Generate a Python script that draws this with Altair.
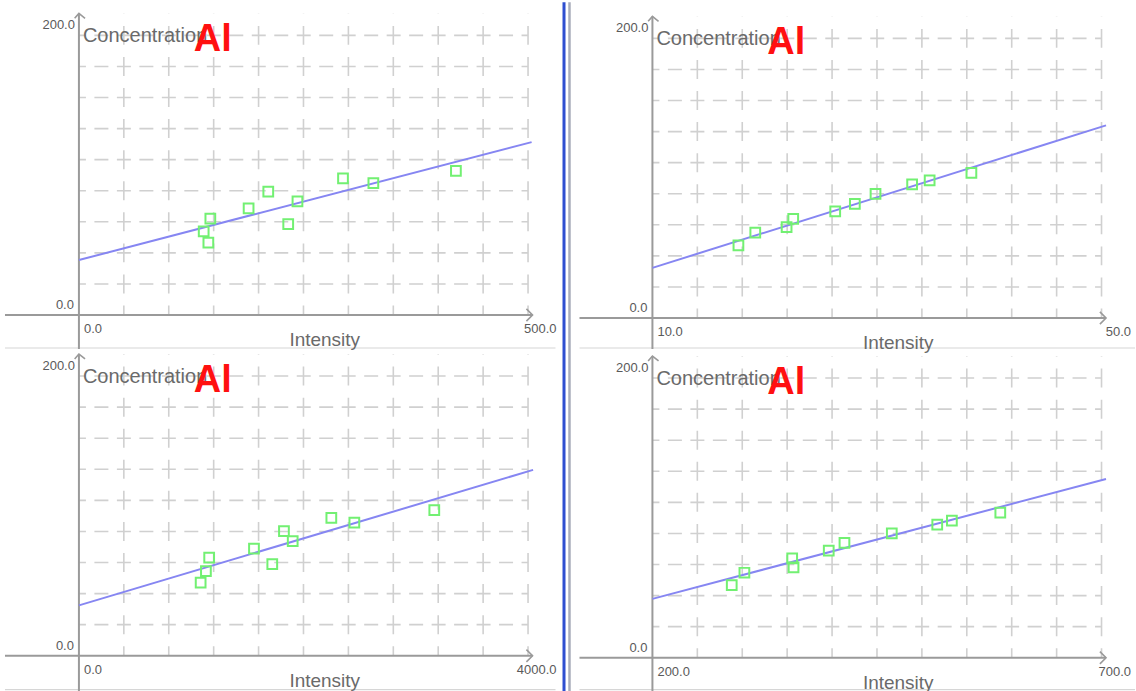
import altair as alt
import pandas as pd

# ---------------- data ----------------
element = "Al"
x_title = "Intensity"
y_title = "Concentration"
y_tick_labels = ["0.0", "200.0"]

panel_keys = ["tl", "tr", "bl", "br"]
x_min = {"tl": 0.0, "tr": 10.0, "bl": 0.0, "br": 200.0}
x_max = {"tl": 500.0, "tr": 50.0, "bl": 4000.0, "br": 700.0}
x_tick_labels = {
    "tl": ["0.0", "500.0"],
    "tr": ["10.0", "50.0"],
    "bl": ["0.0", "4000.0"],
    "br": ["200.0", "700.0"],
}
y_grid_values = [20, 40, 60, 80, 100, 120, 140, 160, 180]

tl_intensity = [138.9, 146.3, 144.1, 188.9, 210.8, 233.0, 243.3, 294.0, 327.8, 419.7]
tl_conc = [53.8, 62.1, 46.6, 68.7, 79.4, 58.5, 73.1, 87.9, 84.9, 92.8]
tr_intensity = [17.66, 19.16, 21.95, 22.54, 26.28, 28.03, 29.87, 33.13, 34.69, 38.41]
tr_conc = [46.7, 54.9, 58.5, 63.8, 68.6, 73.5, 79.9, 86.0, 88.6, 93.5]
bl_intensity = [1084, 1131, 1160, 1559, 1722, 1826, 1904, 2248, 2453, 3165]
bl_conc = [47.1, 54.4, 63.2, 69.0, 59.0, 80.2, 73.8, 88.7, 85.7, 93.7]
br_intensity = [288.3, 302.4, 355.6, 357.1, 396.3, 413.8, 466.5, 517.1, 533.4, 587.3]
br_conc = [46.7, 54.7, 63.9, 58.1, 69.0, 74.0, 80.0, 85.7, 88.3, 93.4]

# calibration line end points
tl_fit_x = [0.0, 504.0]
tl_fit_y = [35.4, 111.3]
tr_fit_x = [10.0, 50.4]
tr_fit_y = [32.3, 124.0]
bl_fit_x = [0.0, 4045.0]
bl_fit_y = [32.4, 119.6]
br_fit_x = [200.0, 705.0]
br_fit_y = [37.9, 115.0]

points = {
    "tl": (tl_intensity, tl_conc),
    "tr": (tr_intensity, tr_conc),
    "bl": (bl_intensity, bl_conc),
    "br": (br_intensity, br_conc),
}
fits = {
    "tl": (tl_fit_x, tl_fit_y),
    "tr": (tr_fit_x, tr_fit_y),
    "bl": (bl_fit_x, bl_fit_y),
    "br": (br_fit_x, br_fit_y),
}

# ---------------- layout / style ----------------
geom = {
    "tl": dict(W=561, H=347, ax=79, ay=313, right=False, top=True),
    "tr": dict(W=575, H=347, ax=92, ay=316, right=True, top=True),
    "bl": dict(W=561, H=344, ax=79, ay=307, right=False, top=False),
    "br": dict(W=575, H=344, ax=92, ay=309, right=True, top=False),
}
GRID_W = 449.5          # pixel width of the 10 x-grid cells
PPY = 1.555             # pixels per concentration unit
FONT = "Liberation Sans"
GRID_COLOR = "#d0d0d0"
AXIS_COLOR = "#9a9a9a"


def panel(key):
    g = geom[key]
    W, H, ax, ay = g["W"], g["H"], g["ax"], g["ay"]
    x0, x1 = x_min[key], x_max[key]
    ppx = GRID_W / (x1 - x0)
    T = ay - 9 * 31.1  # top grid line (pixels)

    def X(p):
        return x0 + (p - ax) / ppx

    def Y(p):
        return (ay - p) / PPY

    xs = alt.Scale(domain=[X(0), X(W)], nice=False, zero=False)
    ys = alt.Scale(domain=[Y(H), Y(0)], nice=False, zero=False)

    def xe(f="x"):
        return alt.X(f"{f}:Q", scale=xs, axis=None)

    def ye(f="y"):
        return alt.Y(f"{f}:Q", scale=ys, axis=None)

    layers = []
    step = (x1 - x0) / 10
    top_y = Y(T - 22)

    vgrid = pd.DataFrame({"x": [x0 + k * step for k in range(1, 11)]})
    vgrid["y"] = 0.0
    vgrid["y2"] = top_y
    layers.append(alt.Chart(vgrid).mark_rule(color=GRID_COLOR, strokeWidth=1.6,
                                             strokeDash=[19, 12.1], strokeDashOffset=9.5)
                  .encode(x=xe(), y=ye(), y2="y2:Q"))

    hgrid = pd.DataFrame({"y": y_grid_values})
    hgrid["x"] = x0
    hgrid["x2"] = x1
    layers.append(alt.Chart(hgrid).mark_rule(color=GRID_COLOR, strokeWidth=1.6,
                                             strokeDash=[14, 8.5], strokeDashOffset=7)
                  .encode(x=xe(), x2="x2:Q", y=ye()))

    # separators
    if g["right"]:
        sep = pd.DataFrame({"a": [0]})
        layers.append(alt.Chart(sep).mark_rule(color="#2f4fd0", strokeWidth=3)
                      .encode(x=alt.value(3.5), y=alt.value(0), y2=alt.value(H)))
        layers.append(alt.Chart(sep).mark_rule(color="#a9adbb", strokeWidth=2.5)
                      .encode(x=alt.value(9), y=alt.value(0), y2=alt.value(H)))
        hx0 = 19
        hx1 = W
    else:
        hx0 = 5
        hx1 = 556
    sep_y = H - 1 if g["top"] else H - 3
    layers.append(alt.Chart(pd.DataFrame({"a": [0]})).mark_rule(color="#d6d6d6", strokeWidth=1.2)
                  .encode(x=alt.value(hx0), x2=alt.value(hx1), y=alt.value(sep_y)))

    # axes
    xa = pd.DataFrame({"x": [X(5 if not g["right"] else 19)], "x2": [X(ax + 454)], "y": [0.0]})
    layers.append(alt.Chart(xa).mark_rule(color=AXIS_COLOR, strokeWidth=2)
                  .encode(x=xe(), x2="x2:Q", y=ye()))
    ya = pd.DataFrame({"x": [x0], "y": [Y(H)], "y2": [top_y]})
    layers.append(alt.Chart(ya).mark_rule(color=AXIS_COLOR, strokeWidth=2)
                  .encode(x=xe(), y=ye(), y2="y2:Q"))
    # arrow heads
    layers.append(alt.Chart(pd.DataFrame({"x": [X(ax + 454)], "y": [0.0]}))
                  .mark_point(shape="M-1,-1L0,0L-1,1", filled=False, color=AXIS_COLOR,
                              strokeWidth=1.6, size=150, opacity=1)
                  .encode(x=xe(), y=ye()))
    layers.append(alt.Chart(pd.DataFrame({"x": [x0], "y": [top_y]}))
                  .mark_point(shape="M-0.7,0.8L0,0L1,0.8", filled=False, color=AXIS_COLOR,
                              strokeWidth=1.6, size=150, opacity=1)
                  .encode(x=xe(), y=ye()))

    # calibration line
    fx, fy = fits[key]
    layers.append(alt.Chart(pd.DataFrame({"x": fx, "y": fy})).mark_line(color="#8686f2", strokeWidth=2)
                  .encode(x=xe(), y=ye()))

    # standards
    px_, py_ = points[key]
    layers.append(alt.Chart(pd.DataFrame({"x": px_, "y": py_}))
                  .mark_point(shape="square", filled=False, color="#72f072", strokeWidth=2,
                              size=95, opacity=1)
                  .encode(x=xe(), y=ye()))

    # texts
    def txt(s, x, y, align, size, color, weight="normal", font=FONT):
        return (alt.Chart(pd.DataFrame({"t": [s]}))
                .mark_text(align=align, baseline="middle", fontSize=size, color=color,
                           fontWeight=weight, font=font)
                .encode(x=alt.value(x), y=alt.value(y), text="t:N"))

    layers.append(txt(y_tick_labels[1], ax - 4, T - 10, "right", 13, "#5a5a5a"))
    layers.append(txt(y_tick_labels[0], ax - 5, ay - 10, "right", 13, "#5a5a5a"))
    layers.append(txt(x_tick_labels[key][0], ax + 5, ay + 14, "left", 13, "#5a5a5a"))
    layers.append(txt(x_tick_labels[key][1], W - 4, ay + 14, "right", 13, "#5a5a5a"))
    layers.append(txt(y_title, ax + 4, T + 1, "left", 20, "#6a6a6a"))
    layers.append(txt(x_title, ax + 246, ay + 25, "center", 19, "#6a6a6a"))
    layers.append(txt(element, ax + 115, T + 5, "left", 38, "#ff1010", weight="bold"))

    return alt.layer(*layers).properties(width=W, height=H)


chart = (alt.concat(panel("tl"), panel("tr"), panel("bl"), panel("br"),
                    columns=2, spacing=0, bounds="flush")
         .properties(padding=0, background="white")
         .configure_view(stroke=None))

chart.save("out.html", embed_options={"renderer": "svg", "actions": False})
